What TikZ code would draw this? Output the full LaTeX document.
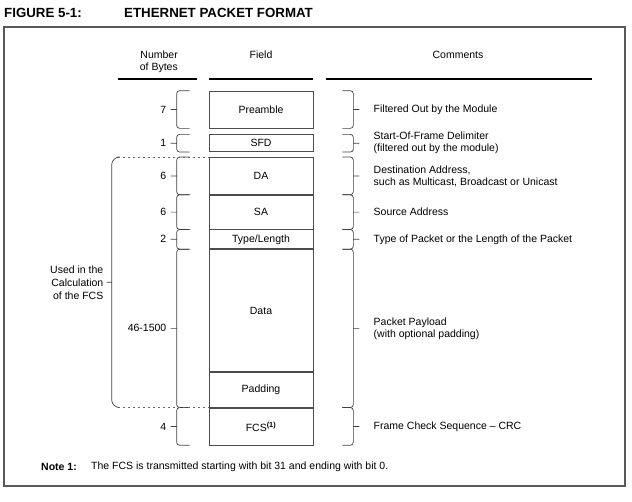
\documentclass[tikz,border=0pt]{standalone}
\usepackage{fontspec}
\setmainfont{Liberation Sans}
\usetikzlibrary{positioning,calc}
\tikzset{
	field/.style={draw=black!70,line width=0.7pt,minimum width=104pt,inner sep=0pt},
	lbl/.style={inner sep=0pt},
	brc/.style={draw=black!75,line width=0.7pt,rounded corners=3pt},
	hdr/.style={line width=2.6pt},
	fcsdash/.style={draw=black!60,line width=0.7pt,dash pattern=on 2.5pt off 2.5pt},
}
\begin{document}
\begin{tikzpicture}[x=1pt,y=-1pt,font=\fontsize{10.5}{12}\selectfont]
	\useasboundingbox (0,0) rectangle (632,501);

	\node[lbl,anchor=west,font=\bfseries\fontsize{13.3}{15}\selectfont] (fig) at (4,13) {FIGURE 5-1:};
	\node[lbl,anchor=west,font=\bfseries\fontsize{13.3}{15}\selectfont] (title) at (124,13) {ETHERNET PACKET FORMAT};
	\draw[draw=black!65,line width=1.2pt] (4,27) rectangle (625,486);

	\node[lbl,anchor=east,align=right] (bytes) at (178,62) {Number\\of Bytes};
	\node[lbl] (field) at (261,55) {Field};
	\node[lbl] (comments) at (458,55) {Comments};
	\draw[hdr] (118,79) -- (197,79);
	\draw[hdr] (209,79) -- (313,79);
	\draw[hdr] (326,79) -- (592,79);

	\node[field,minimum height=37pt] (pre) at (261,109.5) {Preamble};
	\node[field,minimum height=17pt,below=6pt of pre] (sfd) {SFD};
	\node[field,minimum height=37pt,below=5pt of sfd] (da) {DA};
	\node[field,minimum height=34pt,below=0pt of da] (sa) {SA};
	\node[field,minimum height=19pt,below=0pt of sa] (tl) {Type/Length};
	\node[field,minimum height=122pt,below=0pt of tl] (data) {Data};
	\node[field,minimum height=35pt,below=0pt of data] (pad) {Padding};
	\node[field,minimum height=37pt,below=0pt of pad] (fcs) {FCS\textsuperscript{\bfseries(1)}};

	\coordinate (dpw) at ($(data.north west)!0.5!(pad.south west)$);
	\coordinate (dpe) at ($(data.north east)!0.5!(pad.south east)$);
	\coordinate (crcw) at ($(da.north west)!0.5!(pad.south west)$);

	% number of bytes
	\draw[brc] ([xshift=-19pt]pre.north west) -| ([xshift=-32pt]pre.west) |- ([xshift=-19pt]pre.south west) ([xshift=-32pt]pre.west) -- ++(-6pt,0) node[lbl,left=4pt] (n7) {7};
	\draw[brc] ([xshift=-19pt]sfd.north west) -| ([xshift=-32pt]sfd.west) |- ([xshift=-19pt]sfd.south west) ([xshift=-32pt]sfd.west) -- ++(-6pt,0) node[lbl,left=4pt] (n1) {1};
	\draw[brc] ([xshift=-19pt]da.north west) -| ([xshift=-32pt]da.west) |- ([xshift=-19pt]da.south west) ([xshift=-32pt]da.west) -- ++(-6pt,0) node[lbl,left=4pt] (n6a) {6};
	\draw[brc] ([xshift=-19pt]sa.north west) -| ([xshift=-32pt]sa.west) |- ([xshift=-19pt]sa.south west) ([xshift=-32pt]sa.west) -- ++(-6pt,0) node[lbl,left=4pt] (n6b) {6};
	\draw[brc] ([xshift=-19pt]tl.north west) -| ([xshift=-32pt]tl.west) |- ([xshift=-19pt]tl.south west) ([xshift=-32pt]tl.west) -- ++(-6pt,0) node[lbl,left=4pt] (n2) {2};
	\draw[brc] ([xshift=-19pt]data.north west) -| ([xshift=-32pt]dpw) |- ([xshift=-19pt]pad.south west) ([xshift=-32pt]dpw) -- ++(-6pt,0) node[lbl,left=4pt] (n46) {46-1500};
	\draw[brc] ([xshift=-19pt]fcs.north west) -| ([xshift=-32pt]fcs.west) |- ([xshift=-19pt]fcs.south west) ([xshift=-32pt]fcs.west) -- ++(-6pt,0) node[lbl,left=4pt] (n4) {4};

	% fields covered by the FCS
	\draw[brc,rounded corners=8pt] ([xshift=-91pt]da.north west) -| ([xshift=-97pt]crcw) |- ([xshift=-91pt]pad.south west) ([xshift=-97pt]crcw) -- ++(-5pt,0) node[lbl,left=3pt,align=right,font=\fontsize{10.5}{13}\selectfont] (used) {Used in the\\Calculation\\of the FCS};
	\draw[fcsdash] ([xshift=-91pt]da.north west) -- (da.north west);
	\draw[fcsdash] ([xshift=-91pt]pad.south west) -- (pad.south west);

	% comments
	\draw[brc] ([xshift=29pt]pre.north east) -| ([xshift=40pt]pre.east) |- ([xshift=29pt]pre.south east) ([xshift=40pt]pre.east) -- ++(6pt,0) node[lbl,right=14pt,align=left] (c1) {Filtered Out by the Module};
	\draw[brc] ([xshift=29pt]sfd.north east) -| ([xshift=40pt]sfd.east) |- ([xshift=29pt]sfd.south east) ([xshift=40pt]sfd.east) -- ++(6pt,0) node[lbl,right=14pt,align=left] (c2) {Start-Of-Frame Delimiter\\(filtered out by the module)};
	\draw[brc] ([xshift=29pt]da.north east) -| ([xshift=40pt]da.east) |- ([xshift=29pt]da.south east) ([xshift=40pt]da.east) -- ++(6pt,0) node[lbl,right=14pt,align=left] (c3) {Destination Address,\\such as Multicast, Broadcast or Unicast};
	\draw[brc] ([xshift=29pt]sa.north east) -| ([xshift=40pt]sa.east) |- ([xshift=29pt]sa.south east) ([xshift=40pt]sa.east) -- ++(6pt,0) node[lbl,right=14pt,align=left] (c4) {Source Address};
	\draw[brc] ([xshift=29pt]tl.north east) -| ([xshift=40pt]tl.east) |- ([xshift=29pt]tl.south east) ([xshift=40pt]tl.east) -- ++(6pt,0) node[lbl,right=14pt,align=left] (c5) {Type of Packet or the Length of the Packet};
	\draw[brc] ([xshift=29pt]data.north east) -| ([xshift=40pt]dpe) |- ([xshift=29pt]pad.south east) ([xshift=40pt]dpe) -- ++(6pt,0) node[lbl,right=14pt,align=left] (c6) {Packet Payload\\(with optional padding)};
	\draw[brc] ([xshift=29pt]fcs.north east) -| ([xshift=40pt]fcs.east) |- ([xshift=29pt]fcs.south east) ([xshift=40pt]fcs.east) -- ++(6pt,0) node[lbl,right=14pt,align=left] (c7) {Frame Check Sequence -- CRC};

	\node[lbl,anchor=west] (notelbl) at (41,467) {\textbf{Note 1:}};
	\node[lbl,anchor=west] (note) at (91,467) {The FCS is transmitted starting with bit 31 and ending with bit 0.};
\end{tikzpicture}
\end{document}
